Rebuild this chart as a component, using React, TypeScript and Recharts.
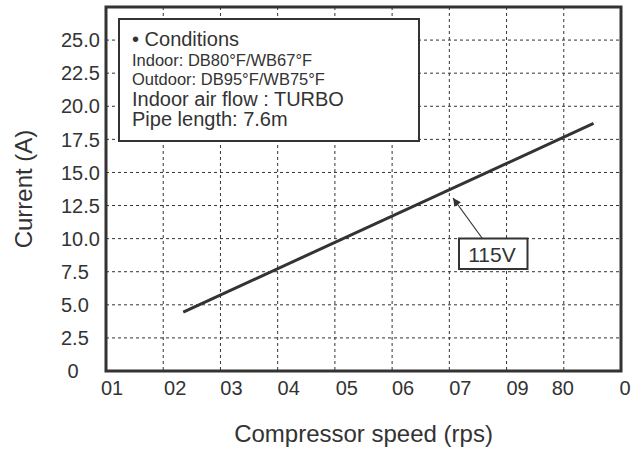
import { LineChart, Line, XAxis, YAxis, CartesianGrid, ReferenceArea } from 'recharts';

const speedTicks = [10, 20, 30, 40, 50, 60, 70, 80, 90, 100];
const speedLabels = ['01', '02', '03', '04', '05', '06', '07', '09', '80', '0'];
const currentTicks = [0, 2.5, 5, 7.5, 10, 12.5, 15, 17.5, 20, 22.5, 25];
const currentLabels = ['0', '2.5', '5.0', '7.5', '10.0', '12.5', '15.0', '17.5', '20.0', '22.5', '25.0'];

const speed = [23.5, 95.2];
const current = [4.45, 18.7];

const data = speed.map((s, i) => ({ speed: s, current: current[i] }));

const INK = '#333';
const FONT = '"Liberation Sans", Arial, sans-serif';

// labels in the source are not centred on their grid lines
const xLabelShift = [6, 12, 11, 11, 12, 11, 11, 11, -1, 4];

const XTick = (props: any) => {
    const { x, y, payload } = props;
    const i = speedTicks.indexOf(payload.value);
    return (
        <text x={x + (xLabelShift[i] ?? 0)} y={y + 16} textAnchor="middle" fontSize={20} fill={INK} fontFamily={FONT}>
            {speedLabels[i]}
        </text>
    );
};

const YTick = (props: any) => {
    const { y, payload } = props;
    const i = currentTicks.indexOf(payload.value);
    const isZero = payload.value === 0;
    return (
        <text x={isZero ? 73 : 61} y={y} dy="0.36em" textAnchor={isZero ? 'middle' : 'start'} fontSize={20} fill={INK} fontFamily={FONT}>
            {currentLabels[i]}
        </text>
    );
};

export default function App() {
    return (
        <div style={{ position: 'absolute', left: 0, top: 0, width: 633, height: 451, background: '#fff' }}>
            <LineChart width={633} height={451} data={data} margin={{ top: 7, right: 12, bottom: 0, left: 0 }}>
                <CartesianGrid stroke={INK} strokeWidth={1} strokeDasharray="3 3" />
                <XAxis
                    dataKey="speed"
                    type="number"
                    domain={[10, 100]}
                    ticks={speedTicks}
                    height={80}
                    axisLine={false}
                    tickLine={false}
                    tick={<XTick />}
                    interval={0}
                    label={{ value: 'Compressor speed (rps)', position: 'insideBottom', offset: 9, fontSize: 24, fill: INK, fontFamily: FONT }}
                />
                <YAxis
                    type="number"
                    domain={[0, 27.5]}
                    ticks={currentTicks}
                    width={106}
                    axisLine={false}
                    tickLine={false}
                    tick={<YTick />}
                    interval={0}
                    label={{ value: 'Current (A)', angle: -90, position: 'insideLeft', offset: 23, fontSize: 24, fill: INK, fontFamily: FONT, style: { textAnchor: 'middle' } }}
                />
                <ReferenceArea x1={10} x2={100} y1={0} y2={27.5} fill="none" stroke={INK} strokeWidth={3} ifOverflow="visible" />
                <Line type="linear" dataKey="current" stroke={INK} strokeWidth={3} dot={false} isAnimationActive={false} />
            </LineChart>
            <svg width={633} height={451} style={{ position: 'absolute', left: 0, top: 0, pointerEvents: 'none' }} fontFamily={FONT}>
                <defs>
                    <marker id="arrowHead" viewBox="0 0 10 10" refX="10" refY="5" markerWidth="10" markerHeight="8" markerUnits="userSpaceOnUse" orient="auto">
                        <path d="M0,0 L10,5 L0,10 z" fill={INK} />
                    </marker>
                </defs>
                <rect x={119} y={19} width={300} height={122} fill="#fff" stroke={INK} strokeWidth={2} />
                <text x={132} y={46} fontSize={20} fill={INK}>• Conditions</text>
                <text x={132} y={65.5} fontSize={16.5} fill={INK}>Indoor: DB80°F/WB67°F</text>
                <text x={132} y={85} fontSize={16.5} fill={INK}>Outdoor: DB95°F/WB75°F</text>
                <text x={132} y={106} fontSize={20} fill={INK}>Indoor air flow : TURBO</text>
                <text x={132} y={126} fontSize={20} fill={INK}>Pipe length: 7.6m</text>
                <line x1={482} y1={238} x2={453} y2={198} stroke={INK} strokeWidth={1.2} markerEnd="url(#arrowHead)" />
                <rect x={459} y={238.5} width={68.5} height={30.5} fill="#fff" stroke={INK} strokeWidth={2} />
                <text x={492} y={262} fontSize={21} textAnchor="middle" fill={INK}>115V</text>
            </svg>
        </div>
    );
}
